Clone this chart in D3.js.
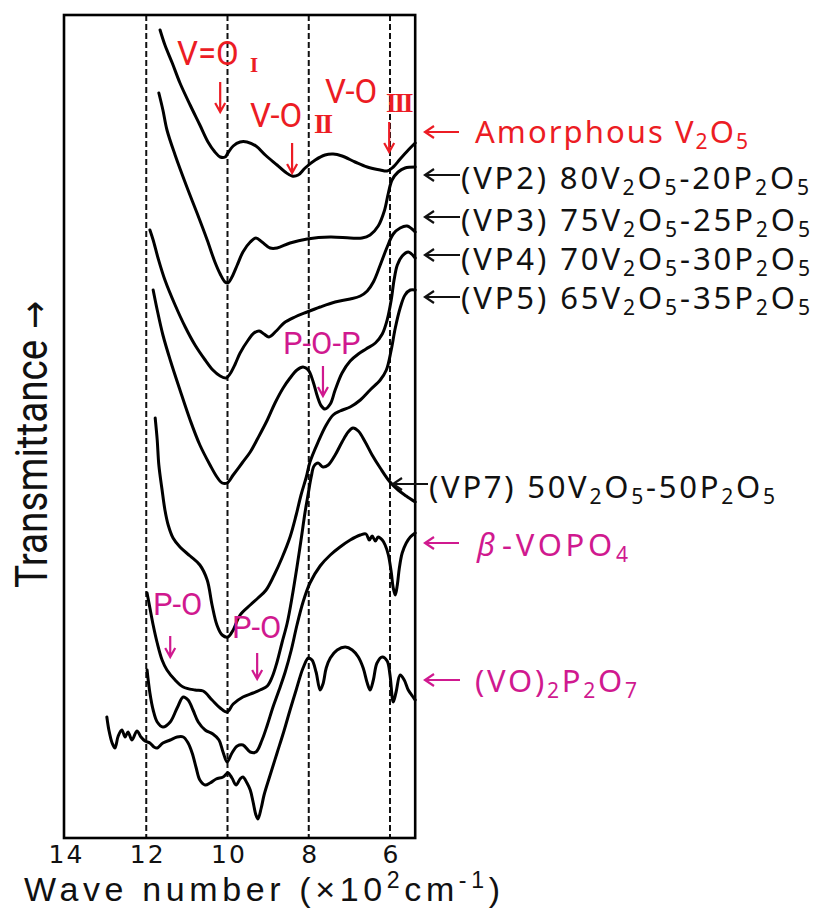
<!DOCTYPE html>
<html>
<head>
<meta charset="utf-8">
<script src="https://cdn.jsdelivr.net/npm/d3@7"></script>
<style>
  html, body { margin: 0; padding: 0; background: #fff; }
  svg { display: block; }
</style>
</head>
<body>
<svg id="chart" width="815" height="910"></svg>
<script>
// IR transmittance spectra of V2O5-P2O5 glasses and reference phosphates.
// Each point: [wave number (x10^2 cm^-1), transmittance in offset arbitrary units]

const waveTicks = [14, 12, 10, 8, 6];
const guideWaves = [12, 10, 8, 6];

const amorphousV2O5 = [
  [11.66,80.8],[11.54,79.3],[11.36,77.5],[11.17,75.5],[10.92,73.3],[10.68,71.3],[10.48,69.6],[10.31,68.6],
  [10.18,68.1],[10.06,68.1],[9.99,68.5],[9.86,69.2],[9.69,69.6],[9.52,69.6],[9.30,69.2],[9.07,68.3],
  [8.78,67.3],[8.58,66.6],[8.41,66.2],[8.26,66.3],[8.09,67.0],[7.84,67.8],[7.60,68.3],[7.40,68.4],
  [7.18,68.2],[6.86,67.6],[6.56,67.1],[6.24,66.8],[6.07,66.7],[5.92,67.1],[5.75,67.9],[5.55,68.8],[5.38,69.5]
];

const vp2 = [
  [11.69,74.5],[11.59,72.8],[11.49,70.8],[11.29,68.3],[11.00,65.1],[10.75,62.5],[10.50,59.8],[10.31,57.6],
  [10.18,56.4],[10.06,55.6],[9.99,55.5],[9.89,56.1],[9.76,57.3],[9.62,58.6],[9.44,59.6],[9.30,60.0],
  [9.15,59.6],[8.95,59.0],[8.78,59.0],[8.46,59.5],[8.04,59.9],[7.47,60.1],[6.98,60.0],[6.69,60.0],
  [6.49,60.3],[6.29,61.2],[6.14,62.7],[6.04,64.5],[5.95,65.8],[5.80,66.6],[5.63,67.0],[5.38,67.1]
];

const vp3 = [
  [11.91,60.8],[11.83,59.8],[11.71,58.0],[11.54,55.8],[11.29,53.3],[11.04,51.1],[10.80,49.3],[10.55,47.8],
  [10.36,46.8],[10.18,46.2],[10.03,46.0],[9.94,46.4],[9.81,47.4],[9.69,48.5],[9.49,49.8],[9.35,50.5],
  [9.22,50.7],[9.10,50.4],[8.98,50.1],[8.80,50.7],[8.61,51.5],[8.34,52.1],[8.04,52.6],[7.72,53.1],
  [7.35,53.6],[6.98,53.9],[6.73,54.2],[6.56,54.7],[6.41,55.6],[6.24,57.3],[6.07,59.1],[5.92,60.4],
  [5.75,61.0],[5.58,61.2],[5.38,60.6]
];

const vp4 = [
  [11.83,54.8],[11.73,52.8],[11.59,50.3],[11.41,47.8],[11.17,44.8],[10.92,41.8],[10.68,39.3],[10.43,37.3],
  [10.26,36.1],[10.13,35.5],[10.01,35.5],[9.86,36.3],[9.64,37.5],[9.44,38.6],[9.25,40.0],[9.02,41.8],
  [8.83,43.5],[8.63,45.0],[8.46,46.0],[8.29,46.8],[8.14,47.1],[8.01,46.8],[7.89,45.6],[7.79,44.2],
  [7.69,43.2],[7.60,42.9],[7.47,43.4],[7.35,44.8],[7.18,46.5],[6.98,47.7],[6.78,48.4],[6.59,48.9],
  [6.36,49.5],[6.19,50.4],[6.07,51.8],[5.97,53.8],[5.90,55.8],[5.82,57.3],[5.70,58.2],[5.55,58.6],[5.38,58.0]
];

const vp5 = [
  [11.78,42.0],[11.73,39.8],[11.69,37.3],[11.61,34.8],[11.54,32.8],[11.46,31.3],[11.34,30.0],[11.17,29.1],
  [10.92,28.2],[10.68,27.3],[10.50,25.8],[10.38,23.3],[10.26,21.3],[10.13,20.3],[9.99,20.1],[9.86,20.8],
  [9.69,22.3],[9.44,23.3],[9.25,24.0],[9.05,24.8],[8.85,26.3],[8.66,28.0],[8.46,30.1],[8.31,32.3],
  [8.19,34.3],[8.06,36.1],[7.97,37.6],[7.77,39.6],[7.57,41.3],[7.40,42.3],[7.23,42.7],[6.98,43.1],
  [6.73,43.8],[6.49,44.8],[6.24,45.8],[6.09,46.8],[5.97,48.8],[5.87,51.0],[5.75,53.0],[5.63,54.3],
  [5.50,54.8],[5.38,54.8]
];

const vp7 = [
  [11.98,24.5],[11.91,23.0],[11.83,21.3],[11.73,19.5],[11.61,17.8],[11.49,16.8],[11.29,15.8],[11.09,15.1],
  [10.80,14.8],[10.60,14.7],[10.38,13.8],[10.18,13.0],[10.01,12.6],[9.86,13.4],[9.62,14.1],[9.37,14.5],
  [9.20,14.8],[9.02,15.2],[8.90,16.1],[8.78,17.6],[8.66,19.5],[8.53,21.5],[8.41,24.1],[8.29,27.1],
  [8.19,29.8],[8.09,32.6],[8.01,34.5],[7.94,36.1],[7.87,37.2],[7.77,37.5],[7.65,37.1],[7.52,37.3],
  [7.35,38.3],[7.18,39.6],[7.03,40.6],[6.91,41.0],[6.78,40.7],[6.61,39.6],[6.44,38.3],[6.24,37.0],
  [6.00,35.6],[5.80,34.8],[5.60,34.2],[5.38,33.6]
];

const betaVOPO4 = [
  [11.98,16.8],[11.91,14.5],[11.83,12.8],[11.73,11.6],[11.59,11.1],[11.41,11.6],[11.24,13.0],[11.09,14.1],
  [10.97,13.8],[10.85,12.8],[10.72,11.6],[10.55,10.8],[10.36,10.4],[10.21,9.8],[10.11,8.6],[10.01,7.6],
  [9.89,8.5],[9.76,9.2],[9.62,9.3],[9.44,8.6],[9.30,8.6],[9.15,9.8],[9.02,11.3],[8.88,13.1],
  [8.73,14.8],[8.58,16.6],[8.43,18.8],[8.29,21.3],[8.14,23.6],[7.97,25.5],[7.72,27.2],[7.47,28.3],
  [7.23,29.1],[6.98,29.8],[6.73,30.3],[6.59,30.4],[6.51,29.8],[6.44,30.2],[6.36,29.7],[6.29,30.1],
  [6.19,29.8],[6.12,29.3],[6.04,28.3],[5.97,26.6],[5.92,25.0],[5.87,24.3],[5.82,25.3],[5.77,27.0],
  [5.70,28.5],[5.60,29.5],[5.50,30.1],[5.38,30.5]
];

const vo2p2o7 = [
  [12.97,12.1],[12.92,10.8],[12.84,9.5],[12.77,9.0],[12.69,10.2],[12.60,10.8],[12.52,10.1],[12.45,10.6],
  [12.35,9.8],[12.23,10.7],[12.13,10.1],[12.03,9.7],[11.91,9.5],[11.81,9.1],[11.73,9.0],[11.59,9.5],
  [11.41,9.8],[11.24,10.1],[11.09,10.1],[10.97,9.5],[10.87,8.5],[10.77,7.0],[10.68,5.8],[10.55,5.3],
  [10.43,5.5],[10.28,5.9],[10.11,6.1],[9.99,6.5],[9.89,6.0],[9.79,5.3],[9.69,5.9],[9.62,6.1],
  [9.52,5.5],[9.44,4.8],[9.37,3.6],[9.30,2.3],[9.25,1.9],[9.17,3.0],[9.10,4.3],[8.95,6.3],
  [8.78,8.5],[8.61,10.7],[8.46,12.8],[8.31,14.8],[8.14,17.0],[8.01,18.0],[7.92,17.8],[7.82,16.6],
  [7.72,14.8],[7.65,15.4],[7.57,17.0],[7.47,18.0],[7.30,18.8],[7.10,19.1],[6.93,18.8],[6.78,18.1],
  [6.66,17.0],[6.56,15.5],[6.49,14.8],[6.41,15.8],[6.32,17.5],[6.19,18.1],[6.07,17.7],[6.00,16.3],
  [5.92,13.6],[5.85,14.6],[5.75,16.3],[5.65,15.8],[5.55,14.8],[5.45,14.2],[5.38,13.8]
];

const spectra = [amorphousV2O5, vp2, vp3, vp4, vp5, vp7, betaVOPO4, vo2p2o7];

// Sample names ("_x" = subscript, "^x" = superscript)
const sampleNames = [
  "Amorphous V_2O_5",
  "(VP2) 80V_2O_5-20P_2O_5",
  "(VP3) 75V_2O_5-25P_2O_5",
  "(VP4) 70V_2O_5-30P_2O_5",
  "(VP5) 65V_2O_5-35P_2O_5",
  "(VP7) 50V_2O_5-50P_2O_5",
  "-VOPO_4",
  "(VO)_2P_2O_7"
];
const bondNames = ["V=O", "V-O", "V-O", "P-O-P", "P-O", "P-O"];
const bondIndices = ["I", "II", "III"];
const xTitle = "Wave number (×10^2cm^{-1})";
const yTitleWord = "Transmittance";
const yTitleArrow = " →";

// ---------- drawing ----------
const RED = "#ec1c24";
const MAGENTA = "#d0198f";

const svg = d3.select("#chart");
const plotLeft = 65, plotTop = 15, plotBottom = 838;

const x = d3.scaleLinear().domain([14, 6]).range([plotLeft, 390]);
const y = d3.scaleLinear().domain([0, 82.3]).range([plotBottom, plotTop]);
const xEnd = 5.38;

// dashed guides
svg.append("g").selectAll("line").data(guideWaves).join("line")
  .attr("x1", d => x(d)).attr("x2", d => x(d))
  .attr("y1", plotTop).attr("y2", plotBottom)
  .attr("stroke", "#111").attr("stroke-width", 2)
  .attr("stroke-dasharray", "6,3");

// frame
svg.append("rect")
  .attr("x", x(14) - 1).attr("y", plotTop)
  .attr("width", x(xEnd) - x(14) + 1).attr("height", plotBottom - plotTop)
  .attr("fill", "none").attr("stroke", "#000").attr("stroke-width", 2.6);

// spectra
const line = d3.line().x(d => x(d[0])).y(d => y(d[1])).curve(d3.curveCatmullRom.alpha(0.5));
svg.append("g").selectAll("path").data(spectra).join("path")
  .attr("d", line)
  .attr("fill", "none").attr("stroke", "#000")
  .attr("stroke-width", 3).attr("stroke-linejoin", "round").attr("stroke-linecap", "round");

// x axis (tick labels only)
const axis = svg.append("g").attr("transform", `translate(0,${plotBottom})`)
  .call(d3.axisBottom(x).tickValues(waveTicks).tickSize(0).tickPadding(7).tickFormat(d3.format("d")));
axis.select(".domain").remove();
axis.selectAll("text")
  .attr("font-family", "'DejaVu Sans', sans-serif").attr("font-size", 25)
  .attr("fill", "#111").style("letter-spacing", "2px").attr("dx", "1px");

// rich text helper: "_c" subscript, "^c" or "^{..}" superscript
function rich(textSel, str, size, shift) {
  const re = /([_^])(\{[^}]*\}|.)/g;
  let last = 0, m, state = 0;
  const plain = s => { textSel.append("tspan").attr("dy", -state).text(s); state = 0; };
  while ((m = re.exec(str))) {
    if (m.index > last) plain(str.slice(last, m.index));
    const content = m[2][0] === "{" ? m[2].slice(1, -1) : m[2];
    const off = m[1] === "_" ? shift : -shift * 1.6;
    textSel.append("tspan").attr("dy", off - state).attr("font-size", size * 0.68).text(content);
    state = off;
    last = re.lastIndex;
  }
  if (last < str.length) plain(str.slice(last));
  return textSel;
}
function fitWidth(textSel, target) {
  const node = textSel.node();
  const n = node.getNumberOfChars();
  const len = node.getComputedTextLength();
  if (n > 1) textSel.style("letter-spacing", ((target - len) / (n - 1)) + "px");
}
function leftArrow(x1, x2, yy, color) {
  svg.append("path")
    .attr("d", `M${x2},${yy}H${x1}M${x1 + 9},${yy - 6}L${x1},${yy}L${x1 + 9},${yy + 6}`)
    .attr("fill", "none").attr("stroke", color).attr("stroke-width", 2.2);
}
function downArrow(xx, y1, y2, color) {
  svg.append("path")
    .attr("d", `M${xx},${y1}V${y2}M${xx - 5},${y2 - 9}L${xx},${y2}L${xx + 5},${y2 - 9}`)
    .attr("fill", "none").attr("stroke", color).attr("stroke-width", 2.2);
}

// sample labels on the right
const labelFont = "'Noto Sans', 'DejaVu Sans', sans-serif";
const labelLayout = [
  { arrow: [425, 459, 132], tx: 475, base: 143, w: 273, color: RED },
  { arrow: [425, 460, 175], tx: 461, base: 189, w: 348, color: "#111" },
  { arrow: [425, 460, 217], tx: 461, base: 231, w: 349, color: "#111" },
  { arrow: [425, 460, 255], tx: 461, base: 270, w: 349, color: "#111" },
  { arrow: [425, 460, 297], tx: 461, base: 309, w: 349, color: "#111" },
  { arrow: [393, 428, 484], tx: 429, base: 498, w: 346, color: "#111" },
  { arrow: [425, 459, 543], tx: 502, base: 556, w: 126, color: MAGENTA },
  { arrow: [425, 460, 680], tx: 475, base: 692, w: 162, color: MAGENTA }
];
sampleNames.forEach((name, i) => {
  const L = labelLayout[i];
  leftArrow(L.arrow[0], L.arrow[1], L.arrow[2], L.color);
  const t = svg.append("text").attr("x", L.tx).attr("y", L.base)
    .attr("font-family", labelFont).attr("font-size", 31).attr("fill", L.color);
  rich(t, name, 31, 6);
  fitWidth(t, L.w);
});
// beta symbol before -VOPO4
svg.append("text").attr("x", 477).attr("y", 556)
  .attr("font-family", labelFont).attr("font-size", 31).attr("font-style", "italic")
  .attr("fill", MAGENTA).text("β");

// band assignments inside the plot
const bondLayout = [
  { tx: 177, base: 65, color: RED, size: 33, arrow: [10.18, 82, 112], idx: 0, ix: 250, ib: 72, isz: 21 },
  { tx: 250, base: 127, color: RED, size: 33, arrow: [8.41, 143, 173], idx: 1, ix: 314, ib: 133, isz: 27 },
  { tx: 325, base: 103, color: RED, size: 33, arrow: [6.02, 122, 152], idx: 2, ix: 386, ib: 112, isz: 27 },
  { tx: 283, base: 354, color: MAGENTA, size: 31, arrow: [7.65, 366, 396] },
  { tx: 153, base: 615, color: MAGENTA, size: 31, arrow: [11.41, 636, 657] },
  { tx: 232, base: 638, color: MAGENTA, size: 31, arrow: [9.27, 653, 679] }
];
bondNames.forEach((name, i) => {
  const B = bondLayout[i];
  svg.append("text").attr("x", B.tx).attr("y", B.base)
    .attr("font-family", "Roboto, sans-serif").attr("font-size", B.size)
    .attr("fill", B.color).text(name);
  if (B.idx !== undefined) {
    svg.append("text").attr("x", B.ix).attr("y", B.ib)
      .attr("font-family", "'Liberation Serif', serif").attr("font-weight", "bold")
      .attr("font-size", B.isz).attr("fill", B.color)
      .style("letter-spacing", "-2px").text(bondIndices[B.idx]);
  }
  downArrow(x(B.arrow[0]), B.arrow[1], B.arrow[2], B.color);
});

// axis titles
const xt = svg.append("text").attr("x", 24).attr("y", 901)
  .attr("font-family", "'Liberation Sans', Arial, sans-serif").attr("font-size", 34).attr("fill", "#111");
rich(xt, xTitle, 34, 8);
fitWidth(xt, 476);

const yt = svg.append("text")
  .attr("transform", "translate(47,588) rotate(-90) scale(0.88,1)")
  .attr("font-family", "Roboto, sans-serif").attr("font-size", 44).attr("fill", "#111");
yt.append("tspan").text(yTitleWord);
yt.append("tspan").attr("font-family", "'DejaVu Sans', sans-serif").attr("font-size", 38).text(yTitleArrow);
</script>
</body>
</html>
